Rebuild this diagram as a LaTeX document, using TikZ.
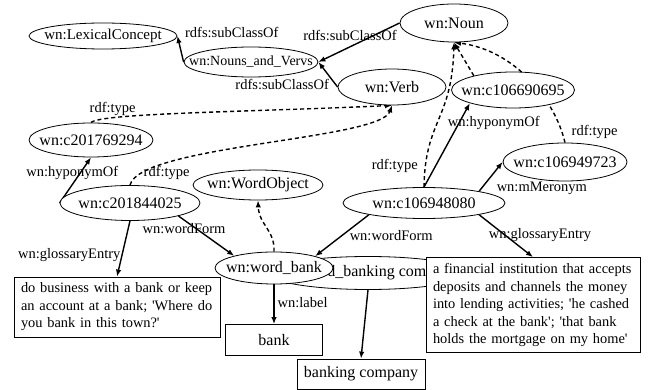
\documentclass[tikz,border=0pt]{standalone}
\usepackage{fontspec}
\setmainfont{Liberation Serif}
\usetikzlibrary{shapes.geometric, arrows.meta, backgrounds}

\begin{document}
\begin{tikzpicture}[x=1pt, y=-1pt, >={Latex[length=7pt, width=5.5pt]},
		e/.style={ellipse, draw, fill=white, line width=0.8pt, inner xsep=-12pt, inner ysep=0pt, font=\fontsize{16}{19}\selectfont},
		b/.style={rectangle, draw, fill=white, line width=0.8pt, font=\fontsize{16}{19}\selectfont},
		gloss/.style={b, align=left, inner xsep=7pt, font=\fontsize{14.4}{17.5}\selectfont},
		lbl/.style={inner sep=1pt, font=\fontsize{14.5}{17}\selectfont},
		rel/.style={->, line width=1.4pt},
		typ/.style={->, line width=1.4pt, dash pattern=on 4pt off 3pt}]
		\useasboundingbox (0,0) rectangle (649,390);

		\node [e, font=\fontsize{15}{18}\selectfont, minimum width=148pt, minimum height=26pt] (lex) at (103,36) {wn:LexicalConcept};
		\node [e, font=\fontsize{14}{17}\selectfont, inner xsep=-20pt, minimum width=134pt, minimum height=30pt] (nav) at (251,62) {wn:Nouns\_and\_Vervs};
		\node [e, minimum width=108pt, minimum height=38pt] (noun) at (454,23) {wn:Noun};
		\node [e, minimum width=108pt, minimum height=36pt] (verb) at (392,87) {wn:Verb};
		\node [e, minimum width=123pt, minimum height=36pt] (c1066) at (513,90) {wn:c106690695};
		\node [e, minimum width=124pt, minimum height=38pt] (c1069) at (565,162) {wn:c106949723};
		\node [e, minimum width=124pt, minimum height=34pt] (c2017) at (91,140) {wn:c201769294};
		\node [e, minimum width=140pt, minimum height=35pt] (c2018) at (130,203) {wn:c201844025};
		\node [e, minimum width=130pt, minimum height=30pt] (wobj) at (258,185) {wn:WordObject};
		\node [e, minimum width=162pt, minimum height=31pt] (c1069480) at (424,203) {wn:c106948080};
		\node [e, inner xsep=-20pt, minimum width=200pt, minimum height=33pt] (wbanking) at (368,273) {wn:word\_banking company};
		\node [e, minimum width=118pt, minimum height=32pt] (wbank) at (274,268) {wn:word\_bank};
		\node [gloss, text width=192pt, minimum height=60pt] (gloss1) at (117,307) {do business with a bank or keep\\an account at a bank; \textquotesingle Where do\\you bank in this town?\textquotesingle};
		\node [gloss, text width=200pt, minimum height=95pt] (gloss2) at (533,305) {a financial institution that accepts\\deposits and channels the money\\into lending activities; \textquotesingle he cashed\\a check at the bank\textquotesingle; \textquotesingle that bank\\holds the mortgage on my home\textquotesingle};
		\node [b, minimum width=97pt, minimum height=31pt] (bank) at (274,340) {bank};
		\node [b, minimum width=128pt, minimum height=30pt] (bcomp) at (361,374) {banking company};

		\begin{pgfonlayer}{background}
		\path[rel] (nav.west) edge node [lbl, pos=1, anchor=west, xshift=6pt, yshift=3pt] {rdfs:subClassOf} (lex.east);
		\path[rel] (noun.west) edge node [lbl, midway, above, xshift=-9pt] {rdfs:subClassOf} (nav.east);
		\path[rel] (verb.west) edge node [lbl, pos=0, anchor=east, xshift=-7pt, yshift=2pt] {rdfs:subClassOf} (nav.east);
		\path[rel] (c2018.west) edge node [lbl, midway, xshift=-3pt, yshift=7pt] {wn:hyponymOf} (c2017.south);
		\path[rel] (c2018.south) edge node [lbl, pos=0.61, anchor=east] {wn:glossaryEntry} (gloss1.north);
		\path[rel] (c2018.-15) edge node [lbl, pos=0.1, yshift=-9pt] {wn:wordForm} (wbank.163);
		\path[rel] (wbank.south) edge node [lbl, midway, anchor=west, xshift=2pt, yshift=2pt] {wn:label} (bank.north);
		\path[rel] (c1069480.192) edge node [lbl, midway, anchor=west, xshift=6pt] {wn:wordForm} (wbank.16);
		\path[rel] (c1069480.-12) edge node [lbl, midway, xshift=34pt, yshift=1pt] {wn:glossaryEntry} (gloss2.north);
		\path[rel] (c1069480.12) edge node [lbl, pos=0, anchor=west, xshift=16pt, yshift=3pt] {wn:mMeronym} (c1069.west);
		\path[rel] (c1069480.north) edge node [lbl, pos=0.76, xshift=35pt] {wn:hyponymOf} (c1066.197);
		\path[rel] (wbanking.south) edge (bcomp.north);

		\draw[typ] (c2017.north) .. controls (100,113) and (250,112) .. (verb.south) node [lbl, pos=0, anchor=south west, xshift=-3pt, yshift=5pt] {rdf:type};
		\draw[typ] (c2018.north) .. controls (140,145) and (380,140) .. (verb.south) node [lbl, pos=0, anchor=south west, xshift=12pt, yshift=4pt] {rdf:type};
		\draw[typ] (wbank.north) .. controls (275,230) and (259,225) .. (wobj.south);
		\draw[typ] (c1069480.north) .. controls (425,120) and (452,120) .. (noun.south) node [lbl, pos=0.12, anchor=east, xshift=-6pt] {rdf:type};
		\path[typ] (c1066.160) edge (noun.south);
		\draw[typ] (c1069.north) .. controls (555,100) and (515,50) .. (noun.south) node [lbl, pos=0, anchor=west, xshift=5pt, yshift=11pt] {rdf:type};
		\end{pgfonlayer}
	\end{tikzpicture}
\end{document}
